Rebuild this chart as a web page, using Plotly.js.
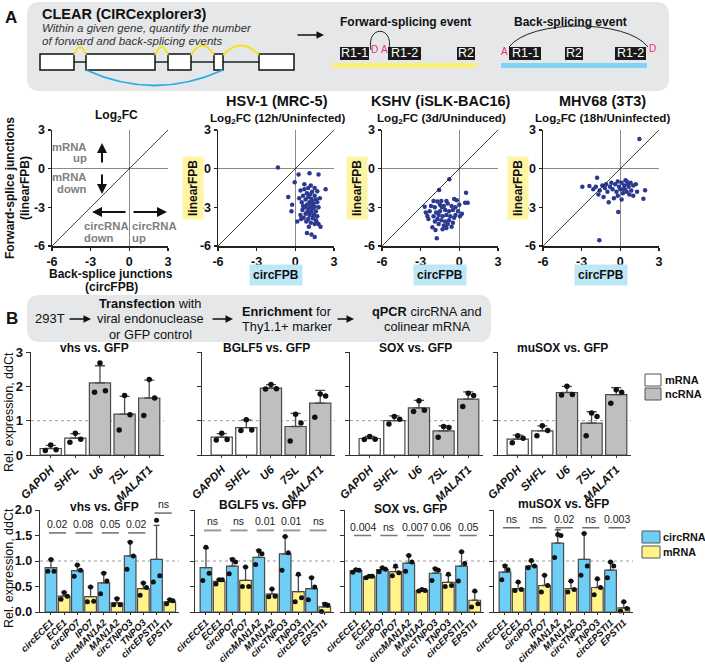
<!DOCTYPE html>
<html><head><meta charset="utf-8">
<script src="https://cdn.plot.ly/plotly-3.0.1.min.js"></script>
<style>html,body{margin:0;padding:0;background:#fff;}#chart{width:705px;height:666px;}</style>
</head><body><div id="chart"></div>
<script>
// ---------------- DATA ----------------
const scatterTicks = [-6, -3, 0, 3];
const hsvPoints = [[-1.35,0.1],[0.25,-0.45],[1.1,-0.35],[1.8,-0.45],[-0.05,-1.05],[0.7,-1.2],[1.2,-1.3],[1.0,-1.5],[0.7,-1.6],[1.5,-1.5],[2.35,-1.6],[1.7,-1.75],[0.4,-1.7],[0.9,-1.9],[1.3,-1.8],[-0.55,-2.2],[0.6,-2.1],[1.0,-2.2],[1.5,-2.1],[1.25,-2.35],[0.8,-2.4],[1.6,-2.4],[1.9,-2.3],[-0.25,-2.8],[0.5,-2.6],[1.1,-2.6],[1.4,-2.7],[1.7,-2.6],[0.9,-2.8],[1.2,-2.9],[1.5,-2.95],[0.75,-3.0],[1.05,-3.1],[1.35,-3.1],[1.8,-3.0],[-0.3,-3.3],[0.55,-3.2],[0.95,-3.3],[1.25,-3.35],[1.6,-3.3],[0.4,-3.6],[0.8,-3.5],[1.1,-3.6],[1.45,-3.55],[1.7,-3.7],[0.65,-3.8],[1.0,-3.9],[1.35,-3.85],[1.6,-4.0],[0.15,-4.1],[0.85,-4.1],[1.2,-4.2],[1.5,-4.3],[1.8,-4.3],[1.95,-4.5],[1.05,-4.5],[0.9,-5.0],[1.25,-5.1],[1.5,-5.3],[1.1,-3.4],[1.3,-2.5],[0.6,-2.9],[1.4,-3.7],[1.15,-2.0],[0.45,-3.9],[1.65,-4.15],[0.3,-2.3]];
const kshvPoints = [[-0.78,-0.83],[-1.57,-1.65],[0.52,-1.86],[-2.69,-2.95],[0.65,-2.64],[0.45,-2.65],[-1.75,-5.4],[-2.09,-4.55],[-1.85,-4.75],[-2.48,-3.67],[-2.4,-3.9],[-2.0,-2.5],[-1.7,-2.55],[-1.4,-2.5],[-1.0,-2.5],[-0.4,-2.35],[-0.2,-2.45],[-2.2,-2.9],[-1.9,-3.0],[-1.5,-2.8],[-1.2,-2.9],[-0.9,-2.7],[-0.6,-2.9],[-0.3,-3.0],[0.0,-2.8],[-2.3,-3.3],[-1.8,-3.4],[-1.5,-3.3],[-1.1,-3.2],[-0.8,-3.3],[-0.5,-3.2],[-0.1,-3.3],[0.2,-3.5],[-2.0,-3.7],[-1.6,-3.6],[-1.3,-3.7],[-1.0,-3.6],[-0.7,-3.7],[-0.4,-3.8],[0.05,-3.7],[-1.9,-4.1],[-1.4,-4.0],[-1.1,-4.1],[-0.8,-4.0],[-0.5,-4.2],[-1.6,-4.3],[-1.2,-4.4],[-0.9,-4.3],[-0.6,-4.5],[-1.3,-4.7],[-1.0,-4.6],[-1.7,-3.9],[-0.3,-3.6],[-2.6,-3.4],[-1.35,-3.0]];
const mhvPoints = [[1.48,2.3],[-1.63,-5.56],[-0.16,-3.36],[-2.95,-1.4],[1.92,-1.68],[1.79,-2.33],[-1.8,-0.7],[-2.4,-1.35],[-2.1,-1.6],[-1.9,-1.4],[-1.6,-1.7],[-1.4,-1.3],[-1.2,-1.5],[-1.3,-2.2],[-1.0,-1.8],[-0.8,-1.4],[-0.6,-1.6],[-0.9,-2.6],[-0.4,-1.2],[-0.3,-1.8],[-0.2,-2.1],[-0.1,-1.4],[0.0,-1.6],[0.1,-1.1],[0.2,-1.9],[0.3,-1.3],[0.35,-1.6],[0.5,-1.0],[0.5,-1.8],[0.65,-1.4],[0.7,-2.0],[0.8,-1.1],[0.85,-1.7],[1.0,-1.3],[1.2,-1.2],[1.3,-1.8],[-0.5,-2.3],[0.1,-2.4],[-1.7,-2.0],[-0.7,-1.1],[0.4,-0.9],[1.0,-2.1],[-1.1,-1.2],[0.25,-1.6],[-0.2,-1.0],[0.6,-1.2]];

const topCats = ["GAPDH","SHFL","U6","7SL","MALAT1"];
const topClass = ["mRNA","mRNA","ncRNA","ncRNA","ncRNA"];
const topTitles = ["vhs vs. GFP","BGLF5 vs. GFP","SOX vs. GFP","muSOX vs. GFP"];
const vhsTopMean = [0.19,0.49,2.1,1.19,1.66];
const vhsTopSD = [0.09,0.13,0.5,0.52,0.52];
const vhsTopPts = [[0.13,0.15,0.29],[0.37,0.46,0.63],[1.83,1.87,2.68],[0.73,1.17,1.73],[1.15,1.66,2.2]];
const bglfTopMean = [0.52,0.8,1.95,0.83,1.51];
const bglfTopSD = [0.1,0.22,0.1,0.38,0.37];
const bglfTopPts = [[0.44,0.45,0.63],[0.71,0.73,1.03],[1.92,1.93,2.05],[0.41,0.93,1.19],[1.1,1.72,1.78]];
const soxTopMean = [0.48,1.0,1.37,0.7,1.63];
const soxTopSD = [0.06,0.14,0.22,0.15,0.21];
const soxTopPts = [[0.45,0.46,0.54],[0.9,1.04,1.12],[1.27,1.3,1.58],[0.52,0.8,0.83],[1.41,1.73,1.8]];
const musoxTopMean = [0.46,0.7,1.82,0.93,1.76];
const musoxTopSD = [0.12,0.15,0.18,0.33,0.2];
const musoxTopPts = [[0.36,0.49,0.56],[0.56,0.71,0.85],[1.75,1.76,2.0],[0.56,1.12,1.22],[1.51,1.83,1.9]];

const botCats = ["circECE1","ECE1","circIPO7","IPO7","circMAN1A2","MAN1A2","circTNPO3","TNPO3","circEPSTI1","EPSTI1"];
const botClass = ["circRNA","mRNA","circRNA","mRNA","circRNA","mRNA","circRNA","mRNA","circRNA","mRNA"];
const vhsBotMean = [0.87,0.31,0.81,0.3,0.57,0.18,1.1,0.46,1.03,0.2];
const vhsBotSD = [0.16,0.08,0.11,0.19,0.2,0.09,0.28,0.11,0.67,0.05];
const vhsBotPts = [[0.8,0.8,1.03],[0.25,0.31,0.38],[0.7,0.82,0.92],[0.2,0.21,0.49],[0.36,0.61,0.76],[0.14,0.14,0.26],[0.84,1.1,1.37],[0.33,0.48,0.57],[0.59,0.71,1.8],[0.16,0.22,0.24]];
const bglfBotMean = [0.87,0.6,0.9,0.62,1.07,0.35,1.14,0.4,0.46,0.1];
const bglfBotSD = [0.38,0.04,0.15,0.26,0.15,0.1,0.34,0.32,0.22,0.08];
const bglfBotPts = [[0.62,0.76,1.27],[0.55,0.63,0.63],[0.75,0.98,1.03],[0.5,0.5,0.88],[0.93,1.14,1.2],[0.3,0.31,0.45],[0.82,1.16,1.48],[0.2,0.28,0.74],[0.24,0.49,0.67],[0.01,0.13,0.15]];
const soxBotMean = [0.81,0.69,0.83,0.79,0.96,0.42,0.76,0.58,0.9,0.23];
const soxBotSD = [0.03,0.02,0.04,0.08,0.15,0.02,0.1,0.14,0.28,0.17];
const soxBotPts = [[0.78,0.82,0.83],[0.67,0.7,0.7],[0.79,0.84,0.87],[0.71,0.77,0.9],[0.8,0.98,1.11],[0.41,0.42,0.44],[0.62,0.82,0.85],[0.5,0.52,0.74],[0.61,0.95,1.18],[0.1,0.16,0.41]];
const musoxBotMean = [0.78,0.46,0.9,0.52,1.35,0.46,1.03,0.48,0.82,0.08];
const musoxBotSD = [0.14,0.12,0.1,0.2,0.26,0.14,0.51,0.16,0.16,0.12];
const musoxBotPts = [[0.63,0.83,0.9],[0.42,0.44,0.59],[0.87,0.9,1.01],[0.39,0.52,0.72],[1.07,1.5,1.52],[0.39,0.44,0.61],[0.72,0.9,1.54],[0.34,0.48,0.65],[0.67,0.9,0.98],[0.02,0.07,0.2]];
const sigLabels = [
  ["0.02","0.08","0.05","0.02","ns"],
  ["ns","ns","0.01","0.01","ns"],
  ["0.004","ns","0.007","0.06","0.05"],
  ["ns","ns","0.02","ns","0.003"]
];

// ---------------- LAYOUT HELPERS ----------------
const FONT = '"Liberation Sans", Arial, Helvetica, sans-serif';
const W = 705, H = 666;
const X = p => p / W, Y = p => 1 - p / H;
const traces = [], shapes = [], ann = [];
const layout = {width: W, height: H, margin: {l:0,r:0,t:0,b:0}, paper_bgcolor:'#fff',
  plot_bgcolor:'rgba(0,0,0,0)', showlegend:false, font:{family:FONT, color:'#111'},
  shapes: shapes, annotations: ann};

function P(str){
  const t = str.trim().split(/[\s,]+/); const out = []; let isX = true;
  for (const k of t){
    if (/^[A-Za-z]$/.test(k)){ out.push(k); isX = true; }
    else { const v = parseFloat(k); out.push(isX ? X(v).toFixed(5) : Y(v).toFixed(5)); isX = !isX; }
  }
  return out.join(' ');
}
function pathShape(str, fill, lc, lw, layer){
  shapes.push({type:'path', xref:'paper', yref:'paper', path:P(str),
    fillcolor: fill || 'rgba(0,0,0,0)', line:{color: lc || 'rgba(0,0,0,0)', width: lw || 0}, layer: layer || 'above'});
}
function rr(x0,y0,x1,y1,r){
  return `M ${x0+r} ${y0} L ${x1-r} ${y0} Q ${x1} ${y0} ${x1} ${y0+r} L ${x1} ${y1-r} Q ${x1} ${y1} ${x1-r} ${y1} L ${x0+r} ${y1} Q ${x0} ${y1} ${x0} ${y1-r} L ${x0} ${y0+r} Q ${x0} ${y0} ${x0+r} ${y0} Z`;
}
function rect(x0,y0,x1,y1,fill,lc,lw){
  shapes.push({type:'rect', xref:'paper', yref:'paper', x0:X(x0), x1:X(x1), y0:Y(y1), y1:Y(y0),
    fillcolor: fill, line:{color: lc || fill, width: lw || 0}, layer:'above'});
}
function line(x0,y0,x1,y1,color,w){
  shapes.push({type:'line', xref:'paper', yref:'paper', x0:X(x0), x1:X(x1), y0:Y(y0), y1:Y(y1),
    line:{color: color, width: w}, layer:'above'});
}
function txt(x,y,text,o){
  o = o || {};
  const a = {xref:'paper', yref:'paper', x:X(x), y:Y(y), text:text, showarrow:false,
    xanchor:o.xa || 'center', yanchor:o.ya || 'middle', textangle:o.angle || 0,
    font:{family:FONT, size:o.size || 12, color:o.color || '#111', weight:o.bold ? 'bold' : 'normal', style:o.italic ? 'italic' : 'normal'},
    borderpad:o.pad || 0};
  if (o.bg) a.bgcolor = o.bg;
  ann.push(a);
}
function arrow(hx,hy,tx,ty,color,w){
  ann.push({xref:'paper', yref:'paper', x:X(hx), y:Y(hy), ax:tx-hx, ay:ty-hy, axref:'pixel', ayref:'pixel',
    text:'', showarrow:true, arrowhead:2, arrowsize:1, arrowwidth:w || 1.5, arrowcolor:color || '#111'});
}

// ---------------- PANEL A HEADER ----------------
pathShape(rr(27,2,669,91,13), '#E6E7E8', null, 0, 'below');
txt(11,17,'A',{bold:true,size:17});
txt(41,14,'CLEAR (CIRCexplorer3)',{bold:true,size:14.5,xa:'left'});
txt(41,28,'Within a given gene, quantify the number',{italic:true,size:11.5,xa:'left',color:'#333'});
txt(41,41,'of forward and back-splicing events',{italic:true,size:11.5,xa:'left',color:'#333'});
line(74,62,259,62,'#222',1.5);
[[40,74],[86,155],[168,191],[214,223],[259,294]].forEach(e => rect(e[0],54,e[1],70,'#fff','#111',1.5));
[[74,86],[155,168],[191,214],[223,259]].forEach(a => pathShape(`M ${a[0]} 55 Q ${(a[0]+a[1])/2} ${a[1]-a[0] > 20 ? 36 : 39} ${a[1]} 55`, null, '#F2E31B', 1.8));
pathShape('M 86 70 Q 154.5 101 223 70', null, '#29ABE2', 1.8);
arrow(324,35,296,35,'#111',1.5);
const PINK = '#E8317D';
txt(405,22,'Forward-splicing event',{bold:true,size:12});
rect(332,63,477,68,'#FBEF7A');
[[340,369,'R1-1'],[388,421,'R1-2'],[457,475,'R2']].forEach(b => { rect(b[0],47,b[1],60,'#1a1a1a'); txt((b[0]+b[1])/2,53.5,b[2],{color:'#fff',size:12.5}); });
pathShape('M 371 50 C 366 25 394 25 389 50', null, '#222', 1);
txt(374,50,'D',{color:PINK,size:10});
txt(384,50,'A',{color:PINK,size:10});
txt(570,22,'Back-splicing event',{bold:true,size:12});
rect(501,63,647,68,'#7FD3F7');
[[509,541,'R1-1'],[565,583,'R2'],[615,646,'R1-2']].forEach(b => { rect(b[0],47,b[1],60,'#1a1a1a'); txt((b[0]+b[1])/2,53.5,b[2],{color:'#fff',size:12.5}); });
pathShape('M 509 47 C 530 19 627 19 648 47', null, '#222', 1);
txt(504,51,'A',{color:PINK,size:10});
txt(652,48,'D',{color:PINK,size:10});

// ---------------- SCATTER PLOTS ----------------
const scLeft = [52,218,382,543];
const scSets = [null, hsvPoints, kshvPoints, mhvPoints];
scLeft.forEach((L,i) => {
  const n = i + 1, sx = n === 1 ? '' : String(n);
  const xa = 'x' + sx, ya = 'y' + sx;
  const ax = {domain:[X(L),X(L+116)], range:[scatterTicks[0], scatterTicks[3]], tickvals:scatterTicks,
    ticktext:scatterTicks.map(String), ticks:'outside', ticklen:3, tickwidth:1.5, tickcolor:'#222',
    showline:true, linecolor:'#222', linewidth:1.5, zeroline:true, zerolinecolor:'#8a8a8a', zerolinewidth:1.5,
    showgrid:false, tickfont:{size:12.5, weight:'bold', color:'#111'}, fixedrange:true};
  layout['xaxis' + sx] = Object.assign({}, ax, {anchor: ya});
  layout['yaxis' + sx] = Object.assign({}, ax, {anchor: xa, domain:[Y(246),Y(130)]});
  const pts = scSets[i] || [];
  traces.push({type:'scatter', mode:'markers', x:pts.map(p=>p[0]), y:pts.map(p=>p[1]), xaxis:xa, yaxis:ya,
    marker:{color:'#2B3990', size:4.5}, hoverinfo:'skip', cliponaxis:false});
  shapes.push({type:'line', xref:xa, yref:ya, x0:scatterTicks[0], y0:scatterTicks[0], x1:scatterTicks[3], y1:scatterTicks[3],
    line:{color:'#111', width:0.8}, layer:'above'});
});
txt(117,116,'Log<sub>2</sub>FC',{bold:true,size:12});
txt(10,188,'Forward-splice junctions',{bold:true,size:12,angle:-90});
txt(25,188,'(linearFPB)',{bold:true,size:12,angle:-90});
txt(111,274,'Back-splice junctions',{bold:true,size:12});
txt(111,287,'(circFPB)',{bold:true,size:12});
const scTitles = [['HSV-1 (MRC-5)','Log<sub>2</sub>FC (12h/Uninfected)'],['KSHV (iSLK-BAC16)','Log<sub>2</sub>FC (3d/Uninduced)'],['MHV68 (3T3)','Log<sub>2</sub>FC (18h/Uninfected)']];
[1,2,3].forEach((k,j) => {
  const L = scLeft[k], c = L + 58;
  txt(c+1,101,scTitles[j][0],{bold:true,size:14.5});
  txt(c+1,118,scTitles[j][1],{bold:true,size:11.6});
  txt(L-25,188,'linearFPB',{bold:true,size:12,angle:-90,bg:'#FFF4A3',pad:3});
  txt(c,275,'circFPB',{bold:true,size:12,bg:'#BDE7F7',pad:3});
});
const GREY = '#7f7f7f';
const gs = {bold:true,size:11.3,color:GREY};
txt(88,147,'mRNA',Object.assign({xa:'right'},gs));
txt(88,158,'up',Object.assign({xa:'right'},gs));
txt(88,177,'mRNA',Object.assign({xa:'right'},gs));
txt(88,189,'down',Object.assign({xa:'right'},gs));
arrow(102,143,102,164,'#111',2);
arrow(102,194,102,173,'#111',2);
arrow(92,212,127,212,'#111',2);
arrow(167,212,132,212,'#111',2);
txt(83,226,'circRNA',Object.assign({xa:'left'},gs));
txt(83,238,'down',Object.assign({xa:'left'},gs));
txt(131,226,'circRNA',Object.assign({xa:'left'},gs));
txt(131,238,'up',Object.assign({xa:'left'},gs));

// ---------------- PANEL B HEADER ----------------
pathShape(rr(27,295,491,342,13), '#E6E7E8', null, 0, 'below');
txt(12,318,'B',{bold:true,size:17});
txt(34,318,'293T',{size:13,xa:'left'});
arrow(91,319,68,319,'#111',1.5);
txt(150,304,'<b>Transfection</b> with',{size:12.8});
txt(150,319,'viral endonuclease',{size:12.8});
txt(150,334,'or GFP control',{size:12.8});
arrow(233,319,211,319,'#111',1.5);
txt(287,311,'<b>Enrichment</b> for',{size:12.8});
txt(287,326,'Thy1.1+ marker',{size:12.8});
arrow(354,319,336,319,'#111',1.5);
txt(427,311,'<b>qPCR</b> circRNA and',{size:12.8});
txt(427,326,'colinear mRNA',{size:12.8});

// ---------------- BAR PANELS ----------------
function barPanel(n, x0, w, yTop, yBot, cats, classes, colors, means, sds, pts, cfg){
  const xa = 'x' + n, ya = 'y' + n;
  const idx = cats.map((_,i) => i);
  traces.push({type:'bar', x:idx, y:means, xaxis:xa, yaxis:ya, width:cfg.bw,
    marker:{color:classes.map(c => colors[c]), line:{color:'#4a4a4a', width:1.2}},
    error_y:{type:'data', symmetric:false, array:sds, arrayminus:sds.map(() => 0), color:'#4a4a4a', thickness:1.3, width:cfg.ew},
    hoverinfo:'skip'});
  const px = [], py = [], off = [-cfg.jit, cfg.jit, 0];
  pts.forEach((arr,i) => { arr.slice().sort((a,b)=>a-b).forEach((v,j) => { px.push(i + off[j]); py.push(v); }); });
  traces.push({type:'scatter', mode:'markers', x:px, y:py, xaxis:xa, yaxis:ya,
    marker:{color:'#111', size:cfg.ms}, hoverinfo:'skip', cliponaxis:false});
  layout['xaxis' + n] = {domain:[X(x0),X(x0+w)], range:cfg.xr, anchor:ya, tickvals:idx, ticktext:cats, tickangle:-45,
    tickfont:{size:cfg.tfs, weight:'bold', style:'italic', color:'#111'}, ticks:'outside', ticklen:2, tickcolor:'#333',
    ticklabelstandoff: cfg.stand || 0,
    showline:true, linecolor:'#333', linewidth:1.3, showgrid:false, zeroline:false, fixedrange:true};
  layout['yaxis' + n] = {domain:[Y(yBot),Y(yTop)], range:cfg.yr, anchor:xa, tickvals:cfg.yt, ticktext:cfg.ytt,
    showticklabels:cfg.labels, tickfont:{size:cfg.yfs, weight:'bold', color:'#111'}, ticks:'outside', ticklen:4, tickcolor:'#333',
    showline:true, linecolor:'#333', linewidth:1.3, showgrid:false, zeroline:false, fixedrange:true};
  shapes.push({type:'line', xref:xa + ' domain', yref:ya, x0:0, x1:1, y0:1, y1:1,
    line:{color:'#9a9a9a', width:1, dash:'dot'}, layer:'below'});
}

const topColors = {mRNA:'#ffffff', ncRNA:'#BFBFBF'};
const botColors = {circRNA:'#6DCFF6', mRNA:'#FFF38A'};
const topLeft = [31,202,350,498];
const topTitleX = [94,266,415,562];
const topData = [[vhsTopMean,vhsTopSD,vhsTopPts],[bglfTopMean,bglfTopSD,bglfTopPts],[soxTopMean,soxTopSD,soxTopPts],[musoxTopMean,musoxTopSD,musoxTopPts]];
topLeft.forEach((L,i) => {
  barPanel(5+i, L, 133, 352, 455, topCats, topClass, topColors, topData[i][0], topData[i][1], topData[i][2],
    {bw:0.86, ew:5, jit:0.22, ms:5.5, xr:[-0.8,4.6], yr:[0,3], yt:[0,1,2,3], ytt:['0','1','2','3'], labels:i===0, yfs:13, tfs:11.5});
  txt(topTitleX[i],348,topTitles[i],{bold:true,size:12});
});
const botLeft = [40,195,345,494];
const botTitleX = [104,262,411,563];
const botTitleY = [507,505,509,504];
const botData = [[vhsBotMean,vhsBotSD,vhsBotPts],[bglfBotMean,bglfBotSD,bglfBotPts],[soxBotMean,soxBotSD,soxBotPts],[musoxBotMean,musoxBotSD,musoxBotPts]];
const sigY = [[1.55,1.55,1.55,1.55,1.94],[1.6,1.6,1.6,1.6,1.6],[1.5,1.5,1.5,1.5,1.5],[1.65,1.65,1.65,1.65,1.65]];
const sigStyle = [{c:'#222',w:1},{c:'#9a9a9a',w:2},{c:'#777',w:1.5},{c:'#222',w:1}];
botLeft.forEach((L,i) => {
  const n = 9 + i;
  barPanel(n, L, 139, 510, 612, botCats, botClass, botColors, botData[i][0], botData[i][1], botData[i][2],
    {bw:0.88, ew:3, jit:0.24, ms:5, xr:[-0.83,9.7], yr:[0,2], yt:[0,0.5,1,1.5,2], ytt:['0.0','0.5','1.0','1.5','2.0'], labels:i===0, yfs:12.5, tfs:9.5, stand:-2});
  txt(botTitleX[i],botTitleY[i],topTitles[i],{bold:true,size:12});
  sigLabels[i].forEach((s,k) => {
    shapes.push({type:'line', xref:'x'+n, yref:'y'+n, x0:2*k-0.15, x1:2*k+1.15, y0:sigY[i][k], y1:sigY[i][k],
      line:{color:sigStyle[i].c, width:sigStyle[i].w}, layer:'above'});
    ann.push({xref:'x'+n, yref:'y'+n, x:2*k+0.5, y:sigY[i][k], yanchor:'bottom', yshift:1, showarrow:false, text:s,
      font:{family:FONT, size:10.5, color:'#222'}});
  });
});
txt(9,412,'Rel. expression, ddCt',{size:12.5,angle:-90});
txt(9,568,'Rel. expression, ddCt',{size:12.5,angle:-90});

// legends
rect(645,374,661,386,'#ffffff','#555',1);
rect(645,388,661,400,'#BFBFBF','#555',1);
txt(664,380,'mRNA',{bold:true,size:11,xa:'left'});
txt(664,394,'ncRNA',{bold:true,size:11,xa:'left'});
rect(642,531,660,543,'#6DCFF6','#555',1);
rect(642,546,660,558,'#FFF38A','#555',1);
txt(662,537,'circRNA',{bold:true,size:10.8,xa:'left'});
txt(662,552,'mRNA',{bold:true,size:10.8,xa:'left'});

Plotly.newPlot('chart', traces, layout, {staticPlot:true, displayModeBar:false});
</script>
</body></html>
